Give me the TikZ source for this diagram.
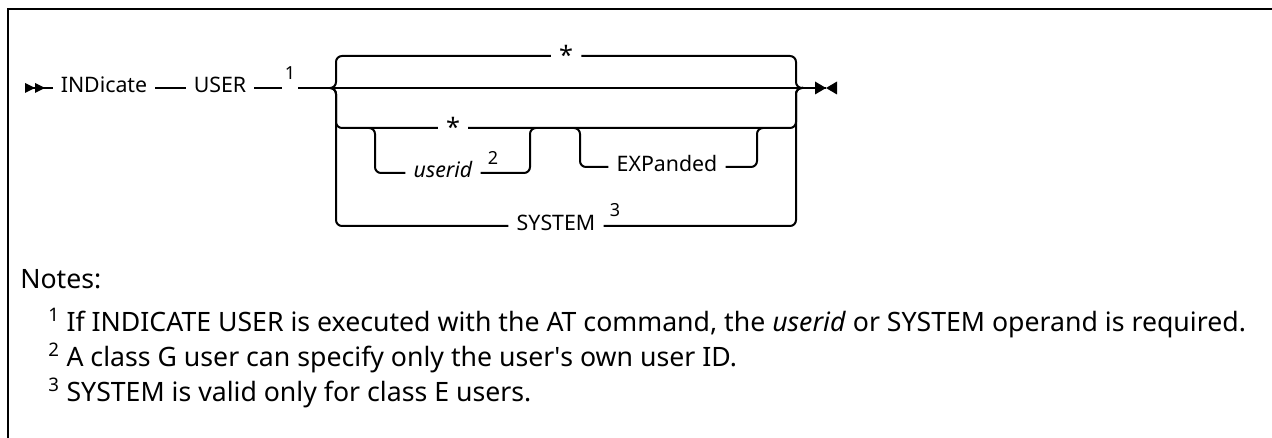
\documentclass[tikz,border=0pt]{standalone}
\usepackage{fontspec}
\setmainfont{Noto Sans}
\tikzset{kw/.style={inner xsep=6pt, inner ysep=0pt, text height=0.71em, text depth=0pt, font=\fontsize{16}{18}\selectfont},
star/.style={kw, font=\fontsize{19}{20}\selectfont},
fn/.style={inner xsep=2pt, inner ysep=0pt, font=\fontsize{13.5}{15}\selectfont},
rail/.style={line width=1.5pt, rounded corners=4.5pt},
note/.style={anchor=west, inner sep=0pt, font=\fontsize{20}{23}\selectfont}}

\begin{document}
\begin{tikzpicture}[x=0.75pt,y=-0.75pt]
\useasboundingbox (0,0) rectangle (1272,438);
\draw[line width=1.6pt] (8,438) |- (1272,9);
\coordinate (begin) at (25,88);
\coordinate (split) at (330,88);
\coordinate (join) at (803,88);
\coordinate (stop) at (826,88);
\node[kw] (ind) at (104,88) {INDicate};
\node[kw] (usr) at (220,88) {USER};
\node[fn] (f1) at (290,73) {1};
\node[star] (s1) at (566,56) {\raisebox{-0.15em}{*}};
\node[star] (s2) at (453,128) {\raisebox{-0.15em}{*}};
\node[kw] (uid) at (443,173) {\itshape userid};
\node[fn] (f2) at (493,158) {2};
\node[kw] (exp) at (667,167) {EXPanded};
\node[kw] (sys) at (556,226) {SYSTEM};
\node[fn] (f3) at (615,210) {3};
\foreach \i in {0,10}
\fill (begin) ++(\i,-5) -- ++(10,5) -- ++(-10,5) -- cycle;
\foreach \s in {-11,11}
\fill (stop) -- ++(\s,-6.5) -- ++(0,13) -- cycle;
\draw[rail] (begin) -- (ind) (ind) -- (usr) (usr) -- (f1.west |- usr)
(f1.east |- usr) -- (split) -- (stop);
\draw[rail] (split) -| (336,56) -- (s1) (s1) -- (796,56) |- (join);
\draw[rail] (split) -| (336,128) -- (s2) (s2) -- (796,128) |- (join);
\draw[rail] (split) -| (336,226) -- (sys) (sys) -- (796,226) |- (join);
\draw[rail] (369,128) -| (375,173) -- (uid) (uid) -- (530,173) |- (536,128);
\draw[rail] (574,128) -| (580,167) -- (exp) (exp) -- (757,167) |- (763,128);
\node[note] (notes) at (20,279) {Notes:};
\node[note] (n1) at (48,323) {\textsuperscript{1} If INDICATE USER is executed with the AT command, the \textit{userid} or SYSTEM operand is required.};
\node[note] (n2) at (48,358) {\textsuperscript{2} A class G user can specify only the user\textquotesingle s own user ID.};
\node[note] (n3) at (48,393) {\textsuperscript{3} SYSTEM is valid only for class E users.};
\end{tikzpicture}
\end{document}
